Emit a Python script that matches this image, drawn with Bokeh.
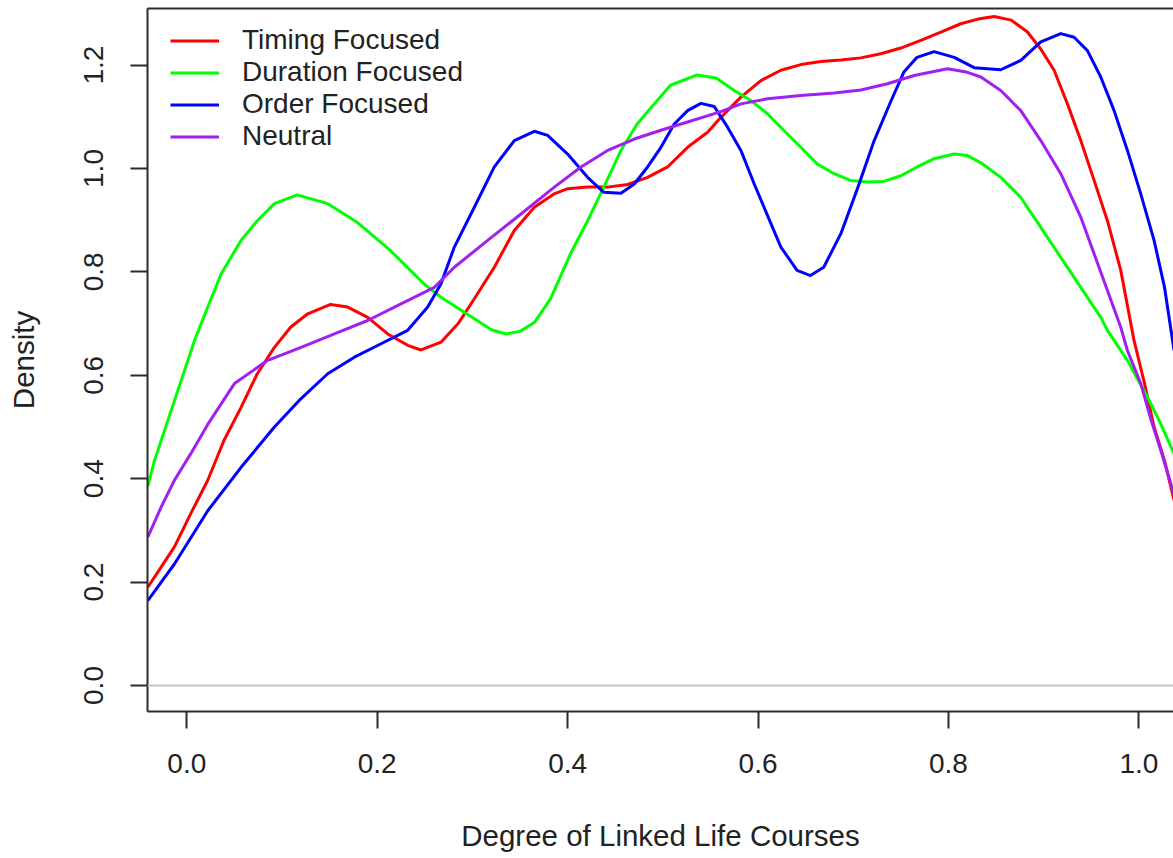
from bokeh.plotting import figure
from bokeh.models import (Range1d, FixedTicker, PrintfTickFormatter, LinearAxis,
                          Span, Legend, LegendItem)
from bokeh.embed import file_html
from bokeh.resources import INLINE

# ---------------- data ----------------
series_names = ["Timing Focused", "Duration Focused", "Order Focused", "Neutral"]
series_colors = ["#FF0000", "#00FF00", "#0000FF", "#A020F0"]

timing_x = [-0.041, -0.027, -0.013, 0.004, 0.022, 0.039, 0.057, 0.074, 0.092, 0.109,
            0.127, 0.151, 0.169, 0.19, 0.211, 0.232, 0.246, 0.267, 0.285, 0.302,
            0.323, 0.344, 0.365, 0.386, 0.40, 0.421, 0.442, 0.463, 0.484, 0.505,
            0.526, 0.547, 0.561, 0.582, 0.603, 0.624, 0.645, 0.666, 0.687, 0.708,
            0.729, 0.75, 0.771, 0.792, 0.813, 0.831, 0.848, 0.866, 0.883, 0.897,
            0.911, 0.925, 0.939, 0.953, 0.967, 0.981, 0.995, 1.006, 1.016, 1.027, 1.037]
timing_y = [0.19, 0.229, 0.268, 0.332, 0.397, 0.474, 0.538, 0.603, 0.654, 0.693,
            0.719, 0.737, 0.732, 0.712, 0.680, 0.658, 0.649, 0.664, 0.70, 0.748,
            0.809, 0.880, 0.925, 0.951, 0.961, 0.964, 0.964, 0.969, 0.983, 1.003,
            1.041, 1.070, 1.099, 1.138, 1.170, 1.190, 1.201, 1.207, 1.210, 1.214,
            1.222, 1.233, 1.248, 1.264, 1.280, 1.289, 1.294, 1.287, 1.264, 1.231,
            1.19, 1.125, 1.054, 0.977, 0.899, 0.803, 0.667, 0.584, 0.50, 0.435, 0.358]

duration_x = [-0.041, -0.034, -0.013, 0.008, 0.022, 0.036, 0.057, 0.074, 0.092, 0.116,
              0.148, 0.179, 0.214, 0.249, 0.267, 0.30, 0.32, 0.335, 0.35, 0.365,
              0.382, 0.403, 0.421, 0.438, 0.456, 0.473, 0.491, 0.508, 0.536, 0.556,
              0.575, 0.592, 0.61, 0.627, 0.645, 0.662, 0.68, 0.697, 0.715, 0.732,
              0.75, 0.767, 0.785, 0.806, 0.82, 0.834, 0.855, 0.876, 0.897, 0.918,
              0.939, 0.960, 0.967, 0.988, 1.009, 1.023, 1.037]
duration_y = [0.385, 0.435, 0.551, 0.667, 0.732, 0.796, 0.861, 0.899, 0.932, 0.949,
              0.932, 0.896, 0.841, 0.777, 0.751, 0.712, 0.688, 0.680, 0.685, 0.702,
              0.748, 0.835, 0.899, 0.964, 1.035, 1.086, 1.125, 1.161, 1.181, 1.175,
              1.151, 1.132, 1.106, 1.074, 1.041, 1.009, 0.99, 0.977, 0.974, 0.975,
              0.986, 1.003, 1.019, 1.028, 1.025, 1.011, 0.983, 0.944, 0.886, 0.828,
              0.770, 0.712, 0.687, 0.629, 0.558, 0.506, 0.448]

order_x = [-0.041, -0.013, 0.022, 0.057, 0.092, 0.12, 0.148, 0.176, 0.204, 0.232,
           0.253, 0.267, 0.281, 0.302, 0.323, 0.344, 0.365, 0.379, 0.40, 0.421,
           0.438, 0.456, 0.47, 0.484, 0.498, 0.512, 0.526, 0.54, 0.554, 0.568,
           0.582, 0.596, 0.61, 0.624, 0.641, 0.655, 0.669, 0.687, 0.705, 0.722,
           0.740, 0.753, 0.767, 0.785, 0.806, 0.827, 0.855, 0.876, 0.897, 0.918,
           0.932, 0.946, 0.960, 0.974, 0.988, 1.002, 1.016, 1.027, 1.037]
order_y = [0.164, 0.235, 0.338, 0.422, 0.50, 0.555, 0.603, 0.635, 0.661, 0.687,
           0.732, 0.777, 0.848, 0.925, 1.003, 1.054, 1.072, 1.064, 1.028, 0.983,
           0.954, 0.952, 0.970, 1.003, 1.041, 1.086, 1.112, 1.126, 1.120, 1.08,
           1.035, 0.970, 0.909, 0.848, 0.803, 0.793, 0.809, 0.874, 0.964, 1.054,
           1.132, 1.186, 1.215, 1.226, 1.215, 1.195, 1.191, 1.209, 1.245, 1.261,
           1.254, 1.228, 1.177, 1.112, 1.035, 0.951, 0.861, 0.770, 0.648]

neutral_x = [-0.041, -0.027, -0.013, 0.004, 0.022, 0.05, 0.085, 0.12, 0.155, 0.19,
             0.225, 0.26, 0.281, 0.316, 0.351, 0.386, 0.414, 0.442, 0.47, 0.498,
             0.526, 0.561, 0.582, 0.61, 0.645, 0.68, 0.708, 0.736, 0.764, 0.799,
             0.82, 0.834, 0.855, 0.876, 0.897, 0.918, 0.939, 0.953, 0.967, 0.981,
             0.988, 1.002, 1.013, 1.023, 1.037]
neutral_y = [0.287, 0.345, 0.397, 0.448, 0.505, 0.584, 0.629, 0.654, 0.680, 0.706,
             0.738, 0.770, 0.809, 0.861, 0.912, 0.964, 1.003, 1.035, 1.057, 1.074,
             1.090, 1.110, 1.125, 1.135, 1.141, 1.146, 1.152, 1.164, 1.180, 1.193,
             1.186, 1.177, 1.151, 1.112, 1.054, 0.99, 0.906, 0.835, 0.764, 0.693,
             0.648, 0.584, 0.513, 0.455, 0.37]

x_ticks = [0.0, 0.2, 0.4, 0.6, 0.8, 1.0]
y_ticks = [0.0, 0.2, 0.4, 0.6, 0.8, 1.0, 1.2]
x_label = "Degree of Linked Life Courses"
y_label = "Density"

X_START, X_END = -0.0413, 1.0364
Y_START, Y_END = -0.0503, 1.3095

# ---------------- figure ----------------
FONT = "Liberation Sans"
TXT = "#222222"
AX = "#2b2b2b"

p = figure(width=1173, height=858, output_backend="svg", toolbar_location=None,
           x_range=Range1d(X_START, X_END), y_range=Range1d(Y_START, Y_END),
           min_border_left=147, min_border_right=0, min_border_top=8,
           min_border_bottom=147, background_fill_color="white",
           border_fill_color="white")
p.outline_line_color = None
p.xgrid.visible = False
p.ygrid.visible = False

for ax in (p.xaxis[0], p.yaxis[0]):
    ax.axis_line_color = AX
    ax.axis_line_width = 2
    ax.major_tick_line_color = AX
    ax.major_tick_line_width = 2
    ax.major_tick_in = 0
    ax.major_tick_out = 17
    ax.minor_tick_line_color = None
    ax.major_label_text_font = FONT
    ax.major_label_text_font_size = "28px"
    ax.major_label_text_color = TXT
    ax.axis_label_text_font = FONT
    ax.axis_label_text_font_size = "29.5px"
    ax.axis_label_text_font_style = "normal"
    ax.axis_label_text_color = TXT
    ax.formatter = PrintfTickFormatter(format="%.1f")

p.xaxis[0].ticker = FixedTicker(ticks=x_ticks)
p.yaxis[0].ticker = FixedTicker(ticks=y_ticks)
p.xaxis[0].axis_label = x_label
p.yaxis[0].axis_label = y_label
p.xaxis[0].major_label_standoff = 25
p.xaxis[0].axis_label_standoff = 43
p.yaxis[0].major_label_standoff = 27
p.yaxis[0].major_label_orientation = "vertical"
p.yaxis[0].axis_label_standoff = 42

# top border of the box
top = LinearAxis(ticker=FixedTicker(ticks=[]), axis_line_color=AX, axis_line_width=2,
                 major_tick_line_color=None, minor_tick_line_color=None,
                 major_label_text_font_size="0px", major_tick_out=0, major_tick_in=0,
                 major_label_standoff=0)
p.add_layout(top, "above")

# zero reference line
p.add_layout(Span(location=0, dimension="width", line_color="#C4C4C4", line_width=2))

xs = [timing_x, duration_x, order_x, neutral_x]
ys = [timing_y, duration_y, order_y, neutral_y]
items = []
for name, col, x, y in zip(series_names, series_colors, xs, ys):
    r = p.line(x, y, line_color=col, line_width=3, line_join="round")
    items.append(LegendItem(label=name, renderers=[r]))

legend = Legend(items=items, location=(23, 559), border_line_color=None,
                background_fill_alpha=0, padding=0, margin=0, spacing=0,
                glyph_width=49, glyph_height=31, label_height=31, label_standoff=23,
                label_text_font=FONT, label_text_font_size="28px",
                label_text_color=TXT)
p.add_layout(legend)

open("out.html", "w").write(file_html(p, INLINE))
